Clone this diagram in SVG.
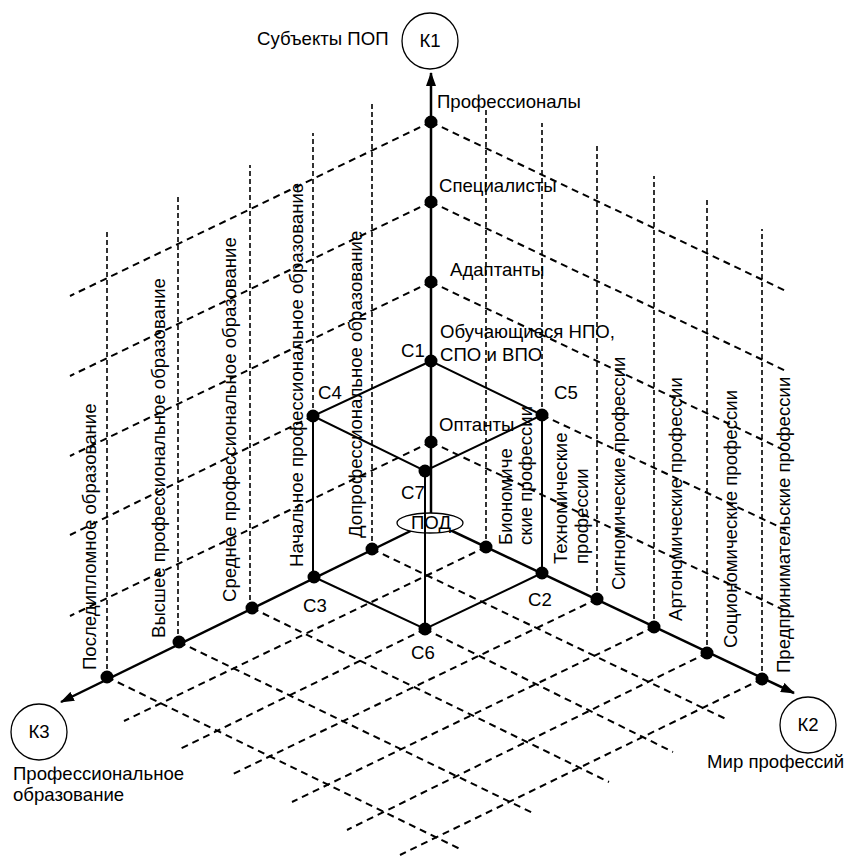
<svg xmlns="http://www.w3.org/2000/svg" width="846" height="856" viewBox="0 0 846 856">
<defs>
<style>
.t{font-family:"Liberation Sans",Arial,sans-serif;font-size:18.6px;fill:#000}
.ax{stroke:#000;stroke-width:2.5;fill:none}
.ed{stroke:#000;stroke-width:2;fill:none}
.dv{stroke:#000;stroke-width:1.6;stroke-dasharray:5 3;fill:none}
.ds{stroke:#000;stroke-width:2;stroke-dasharray:7 5;fill:none}
.dot{fill:#000}
.circ{fill:#fff;stroke:#000;stroke-width:1.3}
</style>
<marker id="arr" markerUnits="userSpaceOnUse" markerWidth="14" markerHeight="10" refX="13" refY="5" orient="auto">
<path d="M0,0 L14,5 L0,10 z" fill="#000"/>
</marker>
</defs>
<rect width="846" height="856" fill="#fff"/>

<g id="connectors">
<path class="dv" d="M372,549V102 M313,416V133 M250,608V165 M178,642V197 M107,677V229"/>
<path class="dv" d="M486,547V109 M542,415V123 M597,599V143 M654,627V176 M707,653V197 M762,679V229"/>
<path class="ds" d="M431,122L70,296 M431,202L70,376 M431,282L70,456 M313,416L70,535 M431,442L70,616"/>
<path class="ds" d="M431,122L786,291 M431,202L786,371 M431,282L786,451 M542,415L786,530 M431,442L786,611"/>
<path class="ds" d="M372,549L726,719 M425,629L673,752 M252,608L609,782 M179,642L533,813 M107,677L460,849"/>
<path class="ds" d="M486,547L124,721 M425,629L180,749 M597,599L233,774 M654,627L292,802 M707,653L347,830 M762,679L400,855"/>
<line class="ax" x1="431" y1="521" x2="431" y2="73" marker-end="url(#arr)"/>
<line class="ax" x1="431" y1="521" x2="794" y2="693" marker-end="url(#arr)"/>
<line class="ax" x1="431" y1="521" x2="61" y2="702" marker-end="url(#arr)"/>
<path class="ed" d="M431,361L313,416L425,471L542,415Z M313,416V577 M542,415V573 M314,577L425,629L542,573"/>
</g>

<g id="POD">
<ellipse cx="430" cy="523" rx="33" ry="10" fill="#fff" stroke="#000" stroke-width="1.3"/>
<line class="ed" x1="425" y1="471" x2="425" y2="629"/>
<text class="t" x="431" y="529" text-anchor="middle">ПОД</text>
</g>

<g id="dots">
<circle class="dot" cx="431" cy="122" r="6.5"/>
<circle class="dot" cx="431" cy="202" r="6.5"/>
<circle class="dot" cx="431" cy="282" r="6.5"/>
<circle class="dot" cx="431" cy="442" r="6.5"/>
<circle class="dot" cx="372" cy="549" r="6.5"/>
<circle class="dot" cx="252" cy="608" r="6.5"/>
<circle class="dot" cx="179" cy="642" r="6.5"/>
<circle class="dot" cx="107" cy="677" r="6.5"/>
<circle class="dot" cx="486" cy="547" r="6.5"/>
<circle class="dot" cx="597" cy="599" r="6.5"/>
<circle class="dot" cx="654" cy="627" r="6.5"/>
<circle class="dot" cx="707" cy="653" r="6.5"/>
<circle class="dot" cx="762" cy="679" r="6.5"/>
</g>

<g id="C1"><circle class="dot" cx="431" cy="361" r="6.5"/><text class="t" x="401" y="357">С1</text></g>
<g id="C2"><circle class="dot" cx="542" cy="573" r="6.5"/><text class="t" x="528" y="606">С2</text></g>
<g id="C3"><circle class="dot" cx="314" cy="577" r="6.5"/><text class="t" x="303" y="612">С3</text></g>
<g id="C4"><circle class="dot" cx="313" cy="416" r="6.5"/><text class="t" x="318" y="399">С4</text></g>
<g id="C5"><circle class="dot" cx="542" cy="415" r="6.5"/><text class="t" x="554" y="399">С5</text></g>
<g id="C6"><circle class="dot" cx="425" cy="629" r="6.5"/><text class="t" x="411" y="659">С6</text></g>
<g id="C7"><circle class="dot" cx="425" cy="471" r="6.5"/><text class="t" x="401" y="499">С7</text></g>

<g id="K1"><circle class="circ" cx="430" cy="41" r="28"/><text class="t" x="430" y="47" text-anchor="middle">К1</text><text class="t" x="257" y="45">Субъекты ПОП</text></g>
<g id="K2"><circle class="circ" cx="808" cy="725" r="28"/><text class="t" x="808" y="731" text-anchor="middle">К2</text><text class="t" x="707" y="768">Мир профессий</text></g>
<g id="K3"><circle class="circ" cx="39" cy="732" r="28"/><text class="t" x="39" y="738" text-anchor="middle">К3</text><text class="t" x="13" y="780">Профессиональное</text><text class="t" x="13" y="801">образование</text></g>

<g id="levels">
<text class="t" x="437" y="108">Профессионалы</text>
<text class="t" x="439" y="192">Специалисты</text>
<text class="t" x="450" y="276">Адаптанты</text>
<text class="t" x="440" y="338">Обучающиеся НПО,</text>
<text class="t" x="440" y="361">СПО и ВПО</text>
<text class="t" x="439" y="431">Оптанты</text>
</g>

<g id="education">
<text class="t" transform="translate(96,670) rotate(-90)">Последипломное образование</text>
<text class="t" transform="translate(165,638) rotate(-90)">Высшее профессиональное образование</text>
<text class="t" transform="translate(236,602) rotate(-90)">Среднее профессиональное образование</text>
<text class="t" transform="translate(303,567) rotate(-90)">Начальное профессиональное образование</text>
<text class="t" transform="translate(362,538) rotate(-90)">Допрофессиональное образование</text>
</g>

<g id="professions">
<text class="t" transform="translate(512,545) rotate(-90)"><tspan x="0" y="0">Биономиче</tspan><tspan x="0" y="20">ские профессии</tspan></text>
<text class="t" transform="translate(567,564) rotate(-90)"><tspan x="0" y="0">Техномические</tspan><tspan x="0" y="21">профессии</tspan></text>
<text class="t" transform="translate(625,590) rotate(-90)">Сигномические профессии</text>
<text class="t" transform="translate(682,621) rotate(-90)">Артономические профессии</text>
<text class="t" transform="translate(737,648) rotate(-90)">Социономические профессии</text>
<text class="t" transform="translate(790,673) rotate(-90)">Предпринимательские профессии</text>
</g>
</svg>
